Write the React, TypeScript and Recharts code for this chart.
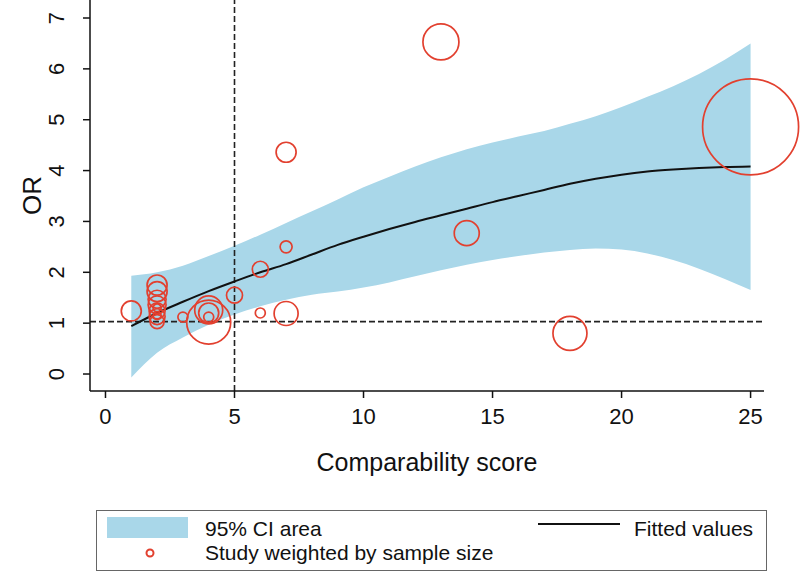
import React from "react";
import { ComposedChart, Area, Line, Scatter, XAxis, YAxis, ZAxis, ReferenceLine } from "recharts";

// fitted curve + 95% CI at integer scores
const fitScore = [1, 2, 3, 4, 5, 6, 7, 8, 9, 10, 11, 12, 13, 14, 15, 16, 17, 18, 19, 20, 21, 22, 23, 24, 25];
const fitted = [0.94, 1.2, 1.42, 1.63, 1.82, 2.0, 2.16, 2.35, 2.54, 2.7, 2.85, 2.99, 3.12, 3.25, 3.38, 3.5, 3.62, 3.74, 3.84, 3.92, 3.98, 4.02, 4.05, 4.07, 4.08];
const ciUpper = [1.93, 2.0, 2.13, 2.32, 2.52, 2.74, 2.97, 3.2, 3.43, 3.67, 3.88, 4.08, 4.26, 4.42, 4.55, 4.67, 4.78, 4.92, 5.07, 5.25, 5.45, 5.66, 5.9, 6.18, 6.5];
const ciLower = [-0.07, 0.42, 0.72, 0.97, 1.17, 1.33, 1.46, 1.56, 1.62, 1.7, 1.8, 1.92, 2.04, 2.15, 2.24, 2.32, 2.39, 2.44, 2.47, 2.45, 2.37, 2.24, 2.07, 1.87, 1.65];

// studies: comparability score, OR, relative sample size (marker area)
const studyScore = [1, 2, 2, 2, 2, 2, 2, 2, 2, 2, 3, 4, 4, 4, 4, 5, 6, 6, 7, 7, 7, 13, 14, 18, 25];
const studyOR = [1.24, 1.75, 1.62, 1.47, 1.36, 1.24, 1.13, 1.03, 1.3, 1.15, 1.12, 1.02, 1.26, 1.2, 1.12, 1.55, 1.2, 2.06, 1.19, 2.5, 4.36, 6.53, 2.77, 0.8, 4.86];
const studyWeight = [100, 100, 100, 81, 81, 64, 64, 49, 16, 16, 25, 484, 196, 100, 25, 64, 25, 64, 144, 36, 100, 324, 156, 289, 2304];

const xTicks = [0, 5, 10, 15, 20, 25];
const yTicks = [0, 1, 2, 3, 4, 5, 6, 7];

const bandData = fitScore.map((x, i) => ({ x, fit: fitted[i], ci: [ciLower[i], ciUpper[i]] }));
const studies = studyScore.map((x, i) => ({ x, y: studyOR[i], w: studyWeight[i] }));

const FONT = "'Liberation Sans', Arial, Helvetica, sans-serif";
const BLUE = "#a9d7e9";
const RED = "#e2402f";

const XTick = (props: any) => (
  <text x={props.x} y={props.y + 24} textAnchor="middle" fontSize={22} fontFamily={FONT} fill="#111">
    {props.payload.value}
  </text>
);

const YTick = (props: any) => (
  <text
    transform={`translate(${props.x - 17}, ${props.y}) rotate(-90)`}
    textAnchor="middle"
    fontSize={22}
    fontFamily={FONT}
    fill="#111"
  >
    {props.payload.value}
  </text>
);

const YTitle = (props: any) => {
  const vb = props.viewBox || { y: 0, height: 391 };
  return (
    <text
      transform={`translate(41, ${vb.y + vb.height / 2}) rotate(-90)`}
      textAnchor="middle"
      fontSize={26}
      fontFamily={FONT}
      fill="#111"
    >
      OR
    </text>
  );
};

function LegendBox() {
  return (
    <svg width={672} height={62} style={{ position: "absolute", left: 96, top: 510 }}>
      <rect x={0.5} y={0.5} width={670} height={60} fill="#fff" stroke="#666" strokeWidth={1} />
      <rect x={11} y={7} width={81} height={21} fill={BLUE} />
      <text x={109} y={26} fontSize={21} fontFamily={FONT} fill="#111">95% CI area</text>
      <line x1={442} x2={524} y1={14} y2={14} stroke="#111" strokeWidth={2} />
      <text x={538} y={26} fontSize={21} fontFamily={FONT} fill="#111">Fitted values</text>
      <circle cx={54} cy={43} r={3.5} fill="none" stroke={RED} strokeWidth={2} />
      <text x={109} y={50} fontSize={21} fontFamily={FONT} fill="#111">Study weighted by sample size</text>
    </svg>
  );
}

export default function App() {
  return (
    <div style={{ position: "relative", width: 800, height: 574, background: "#fff" }}>
      <style>{`body{margin:0}`}</style>
      <ComposedChart width={800} height={574} data={bandData} margin={{ top: 0, right: 36, bottom: 123, left: 0 }}>
        <XAxis
          dataKey="x"
          type="number"
          domain={[-0.6, 25.52]}
          ticks={xTicks}
          height={60}
          tickSize={7}
          tickMargin={2}
          tick={<XTick />}
          axisLine={{ stroke: "#111", strokeWidth: 1.5 }}
          tickLine={{ stroke: "#111", strokeWidth: 1.5 }}
          label={{ value: "Comparability score", position: "insideBottom", offset: -20, fontSize: 25, fontFamily: FONT, fill: "#111" }}
        />
        <YAxis
          dataKey="y"
          type="number"
          domain={[-0.334, 7.354]}
          ticks={yTicks}
          width={90}
          tickSize={7}
          tickMargin={2}
          tick={<YTick />}
          axisLine={{ stroke: "#111", strokeWidth: 1.5 }}
          tickLine={{ stroke: "#111", strokeWidth: 1.5 }}
          label={<YTitle />}
        />
        <ZAxis dataKey="w" type="number" domain={[0, 2304]} range={[0, Math.PI * 2304]} />
        <Area dataKey="ci" type="monotone" fill={BLUE} fillOpacity={1} stroke="none" isAnimationActive={false} />
        <ReferenceLine y={1.03} stroke="#222" strokeWidth={1.6} strokeDasharray="6 3" />
        <ReferenceLine x={5} stroke="#222" strokeWidth={1.6} strokeDasharray="6 3" />
        <Scatter data={studies} fill="none" stroke={RED} strokeWidth={1.7} isAnimationActive={false} />
        <Line dataKey="fit" type="monotone" stroke="#111" strokeWidth={2} dot={false} isAnimationActive={false} />
      </ComposedChart>
      <LegendBox />
    </div>
  );
}
